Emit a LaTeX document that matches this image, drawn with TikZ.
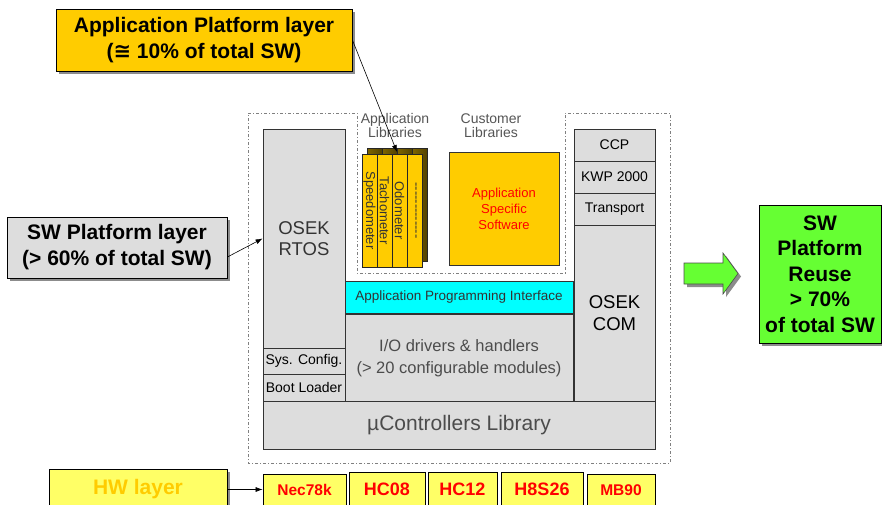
\documentclass[tikz,border=0pt]{standalone}
\usepackage{fontspec}
\setmainfont{Liberation Sans}
\newfontfamily\symfont{DejaVu Sans}
\usetikzlibrary{arrows.meta,shadows}

\definecolor{boxgray}{HTML}{DDDDDD}
\definecolor{gold}{HTML}{FFCC00}
\definecolor{olive}{HTML}{806600}
\definecolor{lightyellow}{HTML}{FFFF66}
\definecolor{reusegreen}{HTML}{66FF33}
\definecolor{apicyan}{HTML}{00FFFF}
\definecolor{textgray}{HTML}{333333}
\definecolor{labelgray}{HTML}{555555}

\newcommand{\pxfont}[2]{\fontsize{#1}{#2}\selectfont}

\begin{document}
\begin{tikzpicture}[x=1pt,y=-1pt,
	layer/.style={draw=textgray, line width=0.8pt, inner sep=0pt, align=center},
	grayblock/.style={layer, fill=boxgray, text=textgray},
	callout/.style={layer, draw=black, font=\bfseries\pxfont{21}{26},
		drop shadow={shadow xshift=3pt, shadow yshift=-3pt, fill=black!45, opacity=1}},
	chip/.style={layer, draw=black, fill=lightyellow, text=red, font=\bfseries\pxfont{18}{18}},
	card/.style={layer, draw=black!85, fill=gold, rotate=-90, minimum width=113pt,
		minimum height=15pt, text=textgray, font=\pxfont{13}{13}},
	backcard/.style={layer, draw=black!85, left color=olive, right color=olive!65!black,
		minimum width=15pt, minimum height=113pt},
	libtext/.style={align=center, inner sep=0pt, text=labelgray, font=\pxfont{14}{13.5}},
	arrow/.style={-{Latex[length=7pt,width=5pt]}, line width=0.6pt}]
	\clip (0,0) rectangle (882,504);
	
	% dash-dot outline of the platform
	\draw[gray, line width=0.8pt, dash pattern=on 3pt off 2pt on 1pt off 2pt]
		(248,113) -- (357,113) -- (357,273) -- (565,273) -- (565,113)
		-- (670,113) -- (670,463) -- (248,463) -- cycle;
	
	% SW platform blocks
	\node[grayblock, minimum width=82pt, minimum height=219pt, font=\pxfont{18.5}{21}] (rtos) at (304,238.5) {OSEK\\RTOS};
	\node[grayblock, minimum width=82pt, minimum height=26pt, text=black, font=\pxfont{14}{14}] (syscfg) at (304,361) {Sys. Config.};
	\node[grayblock, minimum width=82pt, minimum height=27pt, text=black, font=\pxfont{14}{14}] (boot) at (304,387.5) {Boot Loader};
	\node[layer, fill=apicyan, text=textgray, minimum width=228pt, minimum height=32pt, font=\pxfont{13.5}{13.5}] (api) at (459,297) {Application Programming Interface};
	\node[grayblock, text=black!70, minimum width=228pt, minimum height=88pt, font=\pxfont{16.5}{22}] (io) at (459,358) {I/O drivers \& handlers\\(> 20 configurable modules)};
	\node[grayblock, text=black, minimum width=81pt, minimum height=32pt, font=\pxfont{14}{14}] (ccp) at (614.5,145) {CCP};
	\node[grayblock, text=black, minimum width=81pt, minimum height=32pt, font=\pxfont{14}{14}] (kwp) at (614.5,177) {KWP 2000};
	\node[grayblock, text=black, minimum width=81pt, minimum height=32pt, font=\pxfont{14}{14}] (transport) at (614.5,209) {Transport};
	\node[grayblock, text=black, minimum width=81pt, minimum height=176pt, font=\pxfont{18.5}{22}] (com) at (614.5,313) {OSEK\\COM};
	\node[grayblock, text=black!70, minimum width=392pt, minimum height=48pt, font=\pxfont{21}{21}] (ucl) at (459,425) {µControllers Library};
	
	% application libraries
	\node[libtext] (applib) at (395,125.5) {Application\\Libraries};
	\node[libtext] (custlib) at (491,125.5) {Customer\\Libraries};
	\foreach \i in {0,...,3}
		\node[backcard] (back\i) at (374.5+15*\i,204.5) {};
	\foreach \name [count=\i from 0] in {Speedometer,Tachometer,Odometer,{{-}{-}{-}{-}{-}{-}{-}{-}{-}{-}{-}{-}{-}}}
		\node[card] (card\i) at (369.5+15*\i,210.5) {\name};
	\node[layer, fill=gold, text=red, minimum width=110pt, minimum height=113pt, font=\pxfont{13}{16}] (appsw) at (504,208.5) {Application\\Specific\\Software};
	\coordinate (libtip) at (397,152);
	
	% layer callouts
	\node[callout, fill=gold, minimum width=296pt, minimum height=62pt] (appplat) at (204,40) {Application Platform layer\\({\symfont ≅} 10\% of total SW)};
	\node[callout, fill=boxgray, minimum width=220pt, minimum height=61pt] (swplat) at (117,247.5) {SW Platform layer\\(> 60\% of total SW)};
	\node[callout, fill=lightyellow, text=gold, minimum width=178pt, minimum height=41pt] (hw) at (138,489.5) {HW layer};
	\node[callout, fill=reusegreen, minimum width=122pt, minimum height=138pt, font=\bfseries\pxfont{21}{25.5}] (reuse) at (820,274) {SW\\Platform\\Reuse\\> 70\%\\of total SW};
	
	% green arrow
	\draw[draw=black!70, line width=0.6pt, fill=reusegreen, drop shadow={shadow xshift=3pt, shadow yshift=-3pt, fill=black!45, opacity=1}]
		(684,263) -- (723,263) -- (723,253) -- (738,273.5) -- (723,294) -- (723,284) -- (684,284) -- cycle;
	
	% micro controllers
	\node[chip, minimum width=83pt, minimum height=32pt, font=\bfseries\pxfont{15.5}{15.5}] (nec) at (304.5,490) {Nec78k};
	\node[chip, minimum width=76pt, minimum height=34pt] (hc08) at (387,489) {HC08};
	\node[chip, minimum width=69pt, minimum height=34pt] (hc12) at (462.5,489) {HC12};
	\node[chip, minimum width=82pt, minimum height=34pt] (h8s) at (542,489) {H8S26};
	\node[chip, minimum width=68pt, minimum height=32pt, font=\bfseries\pxfont{15.5}{15.5}] (mb90) at (621,490) {MB90};
	
	\draw[arrow] (appplat.east) -- (libtip);
	\draw[arrow] ([yshift=-9.5pt]swplat.east) -- (rtos.west);
	\draw[arrow] (hw.east) -- (nec.west |- hw.east);
\end{tikzpicture}
\end{document}
